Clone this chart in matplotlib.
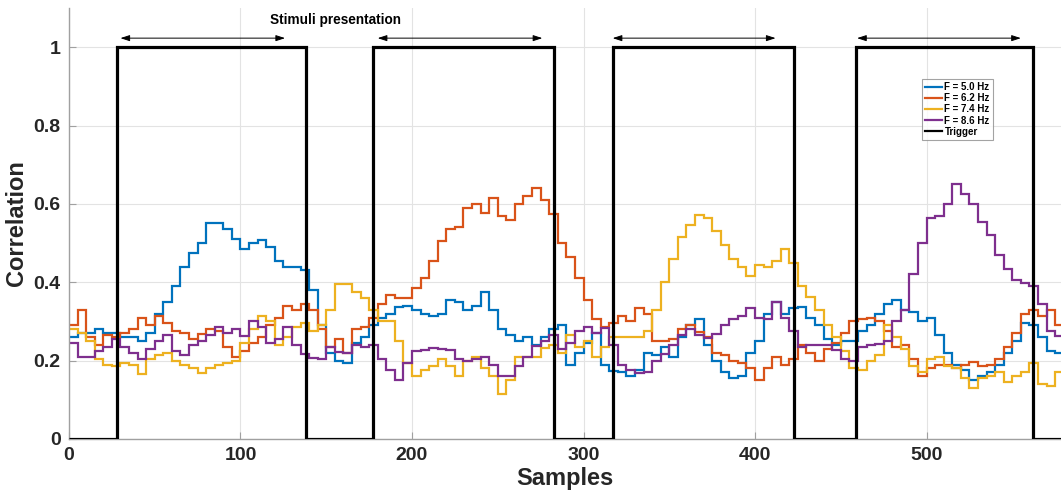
import numpy as np
import matplotlib
matplotlib.use("Agg")
import matplotlib.pyplot as plt

plt.rcParams['font.family'] = ['Liberation Sans', 'DejaVu Sans']

# ---- data (values read per 5-sample bin) ----
bin_width = 5
blue = [0.26, 0.27, 0.27, 0.28, 0.27, 0.27, 0.26, 0.26, 0.25, 0.27,
        0.32, 0.35, 0.39, 0.44, 0.475, 0.50, 0.55, 0.55, 0.535, 0.51,
        0.485, 0.50, 0.508, 0.49, 0.455, 0.44, 0.44, 0.43, 0.38, 0.29,
        0.22, 0.20, 0.195, 0.245, 0.26, 0.29, 0.31, 0.32, 0.337, 0.34,
        0.33, 0.32, 0.315, 0.32, 0.355, 0.35, 0.33, 0.34, 0.375, 0.33,
        0.28, 0.265, 0.25, 0.26, 0.24, 0.26, 0.28, 0.29, 0.19, 0.22,
        0.245, 0.27, 0.19, 0.174, 0.17, 0.16, 0.175, 0.22, 0.215, 0.235,
        0.21, 0.26, 0.29, 0.305, 0.24, 0.20, 0.17, 0.155, 0.16, 0.22,
        0.25, 0.32, 0.35, 0.32, 0.335, 0.337, 0.31, 0.29, 0.255, 0.24,
        0.25, 0.25, 0.275, 0.29, 0.32, 0.345, 0.355, 0.33, 0.325, 0.30,
        0.31, 0.265, 0.22, 0.19, 0.175, 0.15, 0.16, 0.172, 0.19, 0.22,
        0.25, 0.295, 0.29, 0.26, 0.225, 0.22]
orange = [0.29, 0.33, 0.26, 0.24, 0.265, 0.26, 0.27, 0.28, 0.31, 0.29,
          0.315, 0.295, 0.275, 0.27, 0.255, 0.268, 0.28, 0.275, 0.235, 0.21,
          0.225, 0.245, 0.26, 0.29, 0.31, 0.34, 0.33, 0.345, 0.33, 0.28,
          0.235, 0.255, 0.22, 0.28, 0.286, 0.31, 0.345, 0.368, 0.36, 0.36,
          0.385, 0.41, 0.455, 0.505, 0.535, 0.54, 0.59, 0.60, 0.578, 0.615,
          0.57, 0.56, 0.60, 0.62, 0.64, 0.61, 0.575, 0.50, 0.465, 0.41,
          0.355, 0.305, 0.286, 0.295, 0.315, 0.30, 0.335, 0.32, 0.25, 0.25,
          0.255, 0.28, 0.29, 0.272, 0.26, 0.22, 0.215, 0.20, 0.195, 0.18,
          0.15, 0.18, 0.21, 0.19, 0.205, 0.24, 0.22, 0.20, 0.23, 0.245,
          0.27, 0.30, 0.305, 0.31, 0.30, 0.275, 0.235, 0.24, 0.205, 0.16,
          0.18, 0.188, 0.188, 0.18, 0.19, 0.197, 0.187, 0.19, 0.205, 0.235,
          0.27, 0.32, 0.33, 0.315, 0.33, 0.29]
yellow = [0.28, 0.27, 0.25, 0.205, 0.19, 0.185, 0.195, 0.19, 0.165, 0.205,
          0.215, 0.22, 0.20, 0.19, 0.18, 0.168, 0.18, 0.19, 0.195, 0.20,
          0.245, 0.28, 0.315, 0.30, 0.24, 0.26, 0.285, 0.295, 0.275, 0.29,
          0.33, 0.395, 0.395, 0.375, 0.36, 0.33, 0.30, 0.30, 0.25, 0.195,
          0.16, 0.175, 0.185, 0.205, 0.185, 0.162, 0.20, 0.21, 0.18, 0.16,
          0.115, 0.15, 0.21, 0.21, 0.21, 0.232, 0.24, 0.22, 0.265, 0.235,
          0.25, 0.21, 0.235, 0.26, 0.26, 0.26, 0.26, 0.275, 0.33, 0.40,
          0.46, 0.515, 0.545, 0.572, 0.565, 0.53, 0.495, 0.46, 0.44, 0.415,
          0.445, 0.44, 0.455, 0.485, 0.45, 0.39, 0.363, 0.33, 0.29, 0.26,
          0.225, 0.182, 0.176, 0.20, 0.215, 0.29, 0.26, 0.23, 0.185, 0.17,
          0.205, 0.21, 0.185, 0.18, 0.155, 0.13, 0.155, 0.16, 0.17, 0.145,
          0.16, 0.17, 0.195, 0.14, 0.135, 0.17]
purple = [0.245, 0.21, 0.21, 0.225, 0.235, 0.255, 0.235, 0.22, 0.205, 0.23,
          0.25, 0.265, 0.225, 0.215, 0.24, 0.25, 0.265, 0.285, 0.27, 0.28,
          0.262, 0.30, 0.285, 0.245, 0.255, 0.285, 0.24, 0.218, 0.207, 0.203,
          0.235, 0.222, 0.22, 0.24, 0.235, 0.24, 0.205, 0.175, 0.15, 0.195,
          0.225, 0.228, 0.232, 0.23, 0.228, 0.205, 0.20, 0.205, 0.21, 0.19,
          0.16, 0.162, 0.185, 0.21, 0.238, 0.25, 0.265, 0.23, 0.245, 0.275,
          0.285, 0.27, 0.282, 0.24, 0.19, 0.176, 0.168, 0.17, 0.20, 0.218,
          0.24, 0.265, 0.28, 0.265, 0.258, 0.268, 0.29, 0.305, 0.315, 0.335,
          0.31, 0.305, 0.35, 0.31, 0.275, 0.234, 0.24, 0.24, 0.24, 0.228,
          0.205, 0.20, 0.235, 0.24, 0.243, 0.25, 0.30, 0.33, 0.42, 0.50,
          0.565, 0.57, 0.60, 0.65, 0.625, 0.60, 0.555, 0.52, 0.47, 0.435,
          0.405, 0.397, 0.39, 0.345, 0.275, 0.262]

trigger_on = [28, 177, 317, 459]
trigger_off = [138, 283, 423, 562]
arrow_start = [30, 180, 317, 459.5]
arrow_end = [126, 276, 412, 555]
labels = ['F = 5.0 Hz', 'F = 6.2 Hz', 'F = 7.4 Hz', 'F = 8.6 Hz', 'Trigger']
colors = ['#0072BD', '#D95319', '#EDB120', '#7E2F8E', 'black']
x_max = 578.4

# ---- figure ----
fig = plt.figure(figsize=(10.61, 4.98), dpi=100)
ax = fig.add_axes([0.065, 0.1185, 0.935, 0.8655])

edges = np.arange(0, bin_width * (len(blue) + 1), bin_width)
for vals, c, lab in zip([blue, orange, yellow, purple], colors, labels):
    ax.stairs(vals, edges, baseline=None, color=c, lw=1.6, label=lab)

trig_edges = [0]
trig_vals = []
for on, off in zip(trigger_on, trigger_off):
    trig_edges += [on, off]
    trig_vals += [0, 1]
trig_edges.append(x_max + 5)
trig_vals.append(0)
ax.stairs(trig_vals, trig_edges, baseline=None, color='black', lw=2.3,
          label=labels[4], zorder=5)

for a, b in zip(arrow_start, arrow_end):
    ax.annotate('', xy=(b, 1.023), xytext=(a, 1.023),
                arrowprops=dict(arrowstyle='<|-|>,head_length=0.55,head_width=0.18',
                                color='black', lw=0.7, shrinkA=0, shrinkB=0))
ax.text(155.5, 1.07, 'Stimuli presentation', ha='center', va='center',
        fontsize=9.8, fontweight='bold', color='black')

ax.set_xlim(0, x_max)
ax.set_ylim(0, 1.1)
ax.set_xticks([0, 100, 200, 300, 400, 500])
ax.set_yticks([0, 0.2, 0.4, 0.6, 0.8, 1.0])
ax.set_yticklabels(['0', '0.2', '0.4', '0.6', '0.8', '1'])
ax.grid(True, color='#e3e3e3', lw=0.8)
ax.set_axisbelow(True)
for s in ['top', 'right']:
    ax.spines[s].set_visible(False)
for s in ['left', 'bottom']:
    ax.spines[s].set_color('#a0a0a0')
    ax.spines[s].set_linewidth(1.0)
ax.tick_params(direction='in', length=5, color='#a0a0a0', labelsize=14,
               labelcolor='#262626', pad=6)
for t in ax.get_xticklabels() + ax.get_yticklabels():
    t.set_fontweight('bold')
ax.set_xlabel('Samples', fontsize=17, fontweight='bold', color='#262626', labelpad=2)
ax.set_ylabel('Correlation', fontsize=17, fontweight='bold', color='#262626', labelpad=4)

leg = ax.legend(loc='upper left', bbox_to_anchor=(0.86, 0.835),
                prop={'weight': 'bold', 'size': 7}, frameon=True, fancybox=False,
                edgecolor='#8c8c8c', handlelength=1.7, handletextpad=0.3,
                borderpad=0.3, labelspacing=0.12, borderaxespad=0)
leg.get_frame().set_linewidth(0.8)
for line in leg.get_lines():
    line.set_linewidth(1.6)

fig.savefig('out.png', dpi=100)
